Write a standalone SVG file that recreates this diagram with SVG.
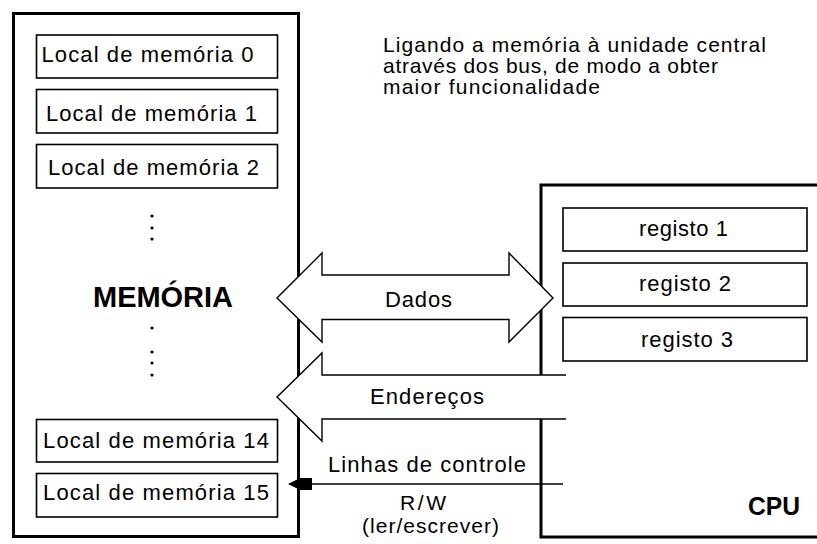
<svg xmlns="http://www.w3.org/2000/svg" width="817" height="544" viewBox="0 0 817 544">
  <style>
    .frame { fill: #fff; stroke: #000; stroke-width: 3; }
    .cell { fill: #fff; stroke: #000; stroke-width: 1.6; }
    .bus { fill: #fff; stroke: #000; stroke-width: 1.4; stroke-linejoin: miter; }
    .line { fill: none; stroke: #000; stroke-width: 1.4; }
    text { font-family: "Liberation Sans", Arial, sans-serif; fill: #000; }
    .t { font-size: 22px; }
    .s { font-size: 21px; }
    .title { font-size: 21px; }
    .big { font-size: 29px; font-weight: bold; }
    .cpu { font-size: 26px; font-weight: bold; }
  </style>
  <rect width="817" height="544" fill="#fff"/>

  <!-- memory unit -->
  <g id="memoria">
    <rect class="frame" x="13.5" y="13.5" width="285" height="523"/>
    <g id="local0">
      <rect class="cell" x="36.5" y="35" width="241" height="43"/>
      <text class="t" x="41.5" y="62" textLength="212" lengthAdjust="spacing">Local de memória 0</text>
    </g>
    <g id="local1">
      <rect class="cell" x="36.5" y="89.5" width="241" height="43.5"/>
      <text class="t" x="46" y="121" textLength="211" lengthAdjust="spacing">Local de memória 1</text>
    </g>
    <g id="local2">
      <rect class="cell" x="36.5" y="144.5" width="241" height="43.5"/>
      <text class="t" x="48" y="175" textLength="211" lengthAdjust="spacing">Local de memória 2</text>
    </g>
    <g id="dots" fill="#000">
      <circle cx="152" cy="216" r="1.6"/>
      <circle cx="152" cy="228" r="1.6"/>
      <circle cx="152" cy="239" r="1.6"/>
      <circle cx="152" cy="328" r="1.6"/>
      <circle cx="152" cy="352" r="1.6"/>
      <circle cx="152" cy="363" r="1.6"/>
      <circle cx="152" cy="375" r="1.6"/>
    </g>
    <text class="big" x="93" y="307" textLength="140" lengthAdjust="spacingAndGlyphs">MEMÓRIA</text>
    <g id="local14">
      <rect class="cell" x="36.5" y="419.5" width="241" height="42.5"/>
      <text class="t" x="43" y="448" textLength="226" lengthAdjust="spacing">Local de memória 14</text>
    </g>
    <g id="local15">
      <rect class="cell" x="36.5" y="473.5" width="241" height="43.5"/>
      <text class="t" x="43" y="500" textLength="226" lengthAdjust="spacing">Local de memória 15</text>
    </g>
  </g>

  <!-- central processing unit -->
  <g id="cpu">
    <rect class="frame" x="541" y="185" width="300" height="352"/>
    <g id="registo1">
      <rect class="cell" x="563" y="208" width="244" height="43"/>
      <text class="t" x="639" y="236" textLength="89" lengthAdjust="spacing">registo 1</text>
    </g>
    <g id="registo2">
      <rect class="cell" x="563" y="263" width="244" height="43"/>
      <text class="t" x="639" y="291" textLength="92" lengthAdjust="spacing">registo 2</text>
    </g>
    <g id="registo3">
      <rect class="cell" x="563" y="317.5" width="244" height="43.5"/>
      <text class="t" x="641" y="347" textLength="92" lengthAdjust="spacing">registo 3</text>
    </g>
    <text class="cpu" x="748" y="515" textLength="52" lengthAdjust="spacingAndGlyphs">CPU</text>
  </g>

  <!-- buses between memory and CPU -->
  <g id="connectors">
    <g id="dados">
      <polygon class="bus" points="277,298 322,253 322,275 509,275 509,253 553,298 509,342 509,319.5 322,319.5 322,342"/>
      <text class="t" x="385" y="307" textLength="67" lengthAdjust="spacing">Dados</text>
    </g>
    <g id="enderecos">
      <polygon fill="#fff" points="277,397 322,353 322,375 566,375 566,419 322,419 322,441"/>
      <path class="line" d="M566,375 H322 V353 L277,397 L322,441 V419 H566"/>
      <text class="t" x="370" y="404" textLength="114" lengthAdjust="spacing">Endereços</text>
    </g>
    <g id="controle">
      <path class="line" d="M563,484 H300"/>
      <polygon fill="#000" points="288,484 300,478 312,478 312,490 300,490"/>
      <text class="t" x="328" y="472" textLength="198" lengthAdjust="spacing">Linhas de controle</text>
      <text class="s" x="400" y="510" textLength="46" lengthAdjust="spacing">R/W</text>
      <text class="s" x="362" y="533" textLength="137" lengthAdjust="spacing">(ler/escrever)</text>
    </g>
  </g>

  <!-- caption -->
  <g id="legenda">
    <text class="title" x="383" y="52" textLength="383" lengthAdjust="spacing">Ligando a memória à unidade central</text>
    <text class="title" x="383" y="73" textLength="335" lengthAdjust="spacing">através dos bus, de modo a obter</text>
    <text class="title" x="383" y="94" textLength="217" lengthAdjust="spacing">maior funcionalidade</text>
  </g>
</svg>
